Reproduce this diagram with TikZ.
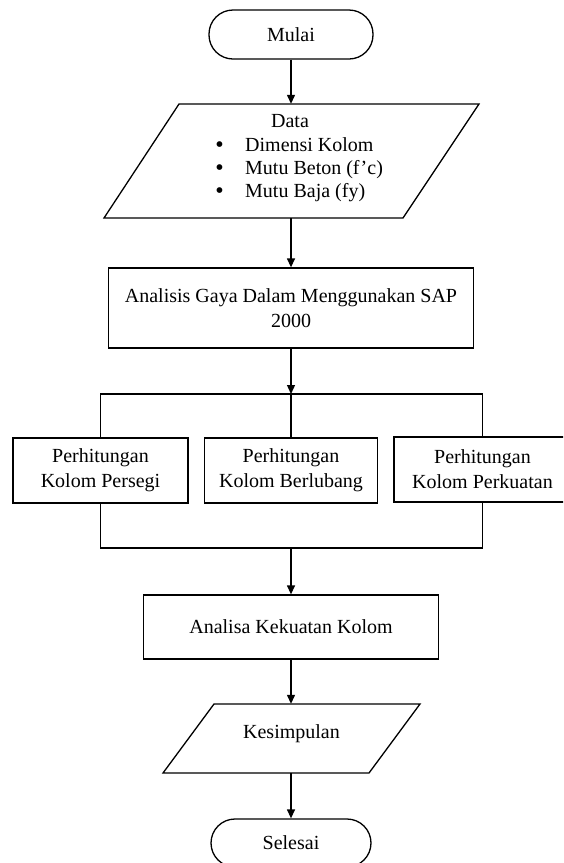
\documentclass[tikz,border=0pt]{standalone}
\usepackage{fontspec}
\setmainfont{Liberation Serif}
\usetikzlibrary{arrows.meta}
\begin{document}
\begin{tikzpicture}[x=1pt,y=-1pt,
  every node/.style={font=\fontsize{20}{25}\selectfont, inner sep=0pt},
  box/.style={draw, line width=1.3pt, rectangle, align=center},
  term/.style={draw, line width=1.3pt, rectangle, rounded corners=24pt, minimum width=164pt, minimum height=49pt},
  shapeline/.style={line width=1.3pt, line join=miter},
  conn/.style={line width=1.3pt},
  arr/.style={conn, -{Triangle[length=9pt,width=8pt]}},
  bul/.style={anchor=base, font=\fontsize{24}{25}\selectfont},
  item/.style={anchor=base west}]
\useasboundingbox (0,0) rectangle (563,863);
\clip (0,0) rectangle (563,863);

% start
\node[term] (mulai) at (291,34.5) {Mulai};

% data (parallelogram)
\draw[shapeline] (179,104) -- (479,104) -- (403,218) -- (104,218) -- cycle;
\node[minimum width=299pt, minimum height=114pt] (data) at (291,161) {};
\node[anchor=base] (datatitle) at (290,127) {Data};
\node[bul] (bul1) at (219.5,152.5) {\textbullet};
\node[bul] (bul2) at (219.5,175.5) {\textbullet};
\node[bul] (bul3) at (219.5,198.5) {\textbullet};
\node[item] (it1) at (245,151.5) {Dimensi Kolom};
\node[item] (it2) at (245,174.5) {Mutu Beton (f’c)};
\node[item] (it3) at (245,197.5) {Mutu Baja (fy)};

% analysis
\node[box, minimum width=365pt, minimum height=80pt] (analisis) at (291,308) {Analisis Gaya Dalam Menggunakan SAP\\2000};

\coordinate (split) at (291,394);
\node[box, minimum width=175pt, minimum height=65pt] (b1) at (100.5,470.5) {Perhitungan\\Kolom Persegi};
\node[box, minimum width=173pt, minimum height=65pt] (b2) at (291,470.5) {Perhitungan\\Kolom Berlubang};
\node[box, minimum width=177pt, minimum height=65pt] (b3) at (482.5,469.5) {Perhitungan\\Kolom Perkuatan};
\coordinate (join) at (291,548);

\node[box, minimum width=295pt, minimum height=64pt] (analisa) at (291,627) {Analisa Kekuatan Kolom};

% conclusion (parallelogram)
\draw[shapeline] (214,704) -- (420,704) -- (369,773) -- (163,773) -- cycle;
\node[minimum width=206pt, minimum height=69pt] (kes) at (291,738.5) {};
\node (kestext) at (291.5,734) {Kesimpulan};

\node[term, minimum width=160pt, minimum height=48pt] (selesai) at (291,843) {Selesai};

% connectors
\draw[arr] (mulai.south) -- (data.north);
\draw[arr] (data.south) -- (analisis.north);
\draw[arr] (analisis.south) -- (split);
\draw[conn] (b1.north) |- (split) -| (b3.north);
\draw[conn] (split) -- (b2.north);
\draw[conn] (b1.south) |- (join) -| (b3.south);
\draw[arr] (join) -- (analisa.north);
\draw[arr] (analisa.south) -- (kes.north);
\draw[arr] (kes.south) -- (selesai.north);
\end{tikzpicture}
\end{document}
